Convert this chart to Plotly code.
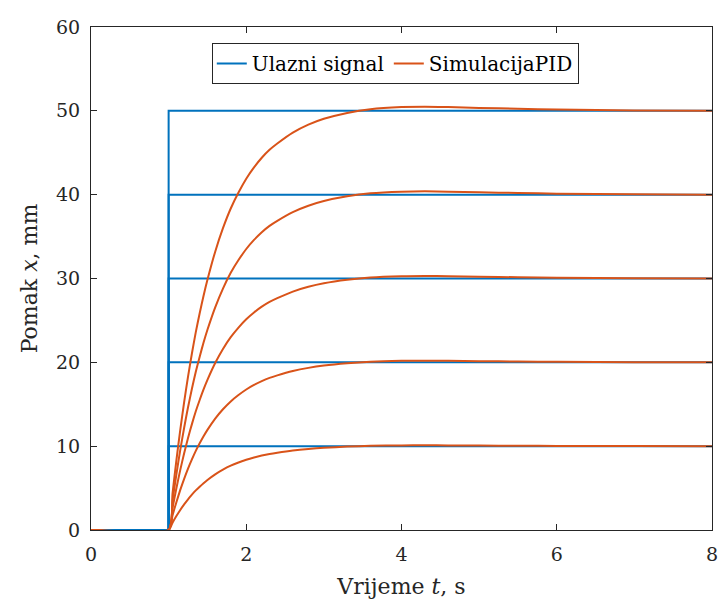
import plotly.graph_objects as go

# Time axis (s)
t = [0, 1.0, 1.05, 1.1, 1.15, 1.2, 1.25, 1.3, 1.35, 1.4, 1.45, 1.5, 1.6, 1.7, 1.8, 1.9, 2.0, 2.1, 2.2, 2.3, 2.4,
     2.6, 2.8, 3.0, 3.3, 3.6, 4.0, 4.3, 4.6, 5.0, 5.5, 6.0, 7.0, 8.0]

# Step input levels (mm)
levels = [10, 20, 30, 40, 50]
t_step = [0, 1, 1, 8]

# Simulated PID responses (mm)
y10 = [0, 0, 0.87, 1.66, 2.39, 3.05, 3.66, 4.21, 4.72, 5.17, 5.59, 5.97, 6.64, 7.20, 7.67, 8.05, 8.38, 8.65, 8.88,
       9.07, 9.22, 9.48, 9.67, 9.81, 9.95, 10.04, 10.09, 10.10, 10.09, 10.07, 10.05, 10.03, 10.01, 10.00]
y20 = [0, 0, 1.74, 3.32, 4.78, 6.10, 7.32, 8.42, 9.44, 10.34, 11.18, 11.94, 13.28, 14.40, 15.34, 16.10, 16.76, 17.30,
       17.76, 18.14, 18.44, 18.96, 19.34, 19.62, 19.90, 20.08, 20.18, 20.20, 20.18, 20.14, 20.10, 20.06, 20.02, 20.00]
y30 = [0, 0, 2.61, 4.98, 7.17, 9.15, 10.98, 12.63, 14.16, 15.51, 16.77, 17.91, 19.92, 21.60, 23.01, 24.15, 25.14,
       25.95, 26.64, 27.21, 27.66, 28.44, 29.01, 29.43, 29.85, 30.12, 30.27, 30.30, 30.27, 30.21, 30.15, 30.09, 30.03, 30.00]
y40 = [0, 0, 3.48, 6.64, 9.56, 12.20, 14.64, 16.84, 18.88, 20.68, 22.36, 23.88, 26.56, 28.80, 30.68, 32.20, 33.52,
       34.60, 35.52, 36.28, 36.88, 37.92, 38.68, 39.24, 39.80, 40.16, 40.36, 40.40, 40.36, 40.28, 40.20, 40.12, 40.04, 40.00]
y50 = [0, 0, 4.35, 8.30, 11.95, 15.25, 18.30, 21.05, 23.60, 25.85, 27.95, 29.85, 33.20, 36.00, 38.35, 40.25, 41.90,
       43.25, 44.40, 45.35, 46.10, 47.40, 48.35, 49.05, 49.75, 50.20, 50.45, 50.50, 50.45, 50.35, 50.25, 50.15, 50.05, 50.00]
responses = [y10, y20, y30, y40, y50]

x_ticks = [0, 2, 4, 6, 8]
y_ticks = [0, 10, 20, 30, 40, 50, 60]

BLUE = "#0072BD"
ORANGE = "#D95319"
FONT = "DejaVu Serif"

fig = go.Figure()
for i, lv in enumerate(levels):
    fig.add_trace(go.Scatter(
        x=t_step, y=[0, 0, lv, lv], mode="lines",
        line=dict(color=BLUE, width=2),
        name="Ulazni signal", legendgroup="in", showlegend=(i == 0)))
for i, y in enumerate(responses):
    fig.add_trace(go.Scatter(
        x=t, y=y, mode="lines", line=dict(color=ORANGE, width=2, shape="spline", smoothing=0.6),
        name="SimulacijaPID", legendgroup="pid", showlegend=(i == 0)))

axis_common = dict(
    showline=True, linecolor="#262626", linewidth=1, mirror="ticks",
    ticks="inside", ticklen=6, tickcolor="#262626", showgrid=False, zeroline=False,
    automargin=False, ticklabeloverflow="allow",
    tickfont=dict(family=FONT, size=19, color="#262626"),
)
fig.update_xaxes(range=[0, 8], tickvals=x_ticks, ticklabelstandoff=7,
                 title=dict(text="Vrijeme <i>t</i>, s", font=dict(family=FONT, size=22, color="#262626"), standoff=14),
                 **axis_common)
fig.update_yaxes(range=[0, 60], tickvals=y_ticks, ticklabelstandoff=6,
                 title=dict(text="Pomak <i>x</i>, mm", font=dict(family=FONT, size=22, color="#262626"), standoff=12),
                 **axis_common)

fig.update_layout(
    width=718, height=603,
    margin=dict(l=91, r=6, t=27, b=73),
    paper_bgcolor="white", plot_bgcolor="white",
    font=dict(family=FONT, size=19, color="#262626"),
    legend=dict(orientation="h", x=0.49, y=0.968, xanchor="center", yanchor="top",
                bgcolor="white", bordercolor="#262626", borderwidth=1,
                font=dict(family=FONT, size=20, color="#000000")),
)

fig.write_html("out.html", config={"displayModeBar": False},
               post_script="document.body.style.margin='0';document.body.style.overflow='hidden';")
